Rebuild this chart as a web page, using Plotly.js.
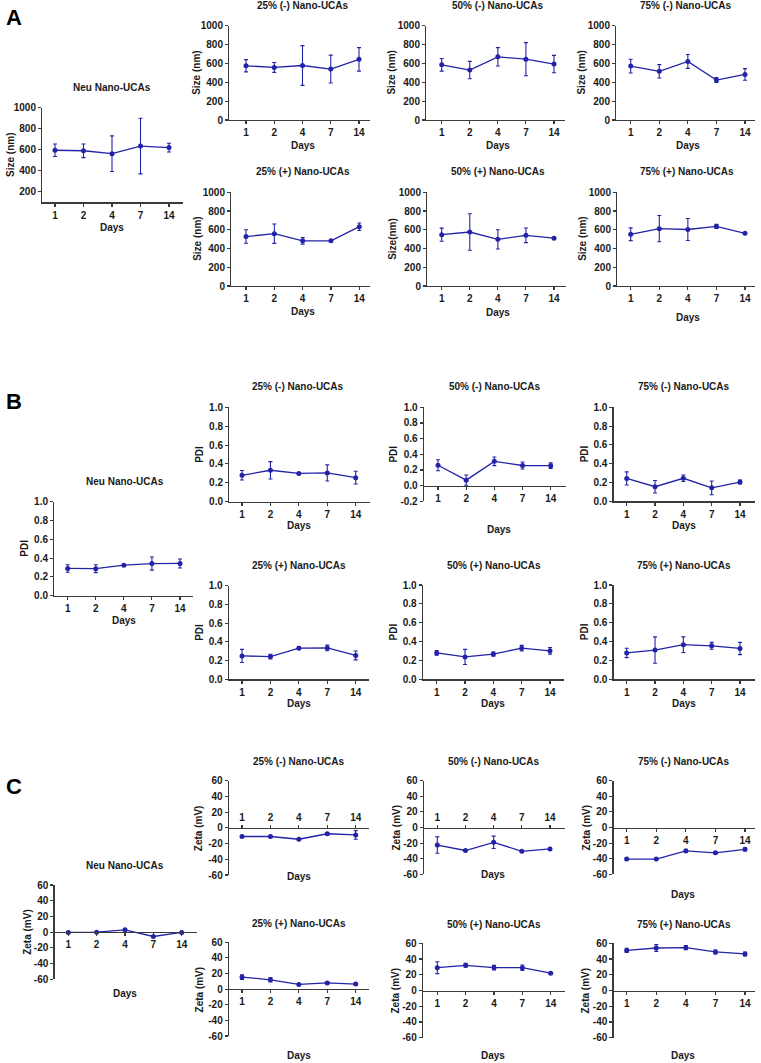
<!DOCTYPE html>
<html>
<head>
<meta charset="utf-8">
<script src="https://cdn.plot.ly/plotly-3.0.1.min.js"></script>
<style>html,body{margin:0;padding:0;background:#fff}#chart{width:761px;height:1063px}</style>
</head>
<body>
<div id="chart"></div>
<script>
// ---------------- DATA ----------------
const DAYS = ['1', '2', '4', '7', '14'];

const SIZE_NEU = [595, 590, 562, 635, 620];   const SIZE_NEU_SD = [60, 65, 170, 265, 42];
const SIZE_25N = [575, 557, 578, 540, 643];   const SIZE_25N_SD = [65, 52, 211, 148, 125];
const SIZE_50N = [585, 530, 670, 645, 593];   const SIZE_50N_SD = [67, 92, 98, 175, 92];
const SIZE_75N = [572, 516, 621, 424, 483];   const SIZE_75N_SD = [73, 71, 74, 25, 62];
const SIZE_25P = [528, 558, 482, 482, 633];   const SIZE_25P_SD = [72, 103, 35, 5, 40];
const SIZE_50P = [548, 576, 498, 541, 510];   const SIZE_50P_SD = [70, 195, 103, 78, 8];
const SIZE_75P = [552, 612, 603, 636, 562];   const SIZE_75P_SD = [68, 140, 118, 22, 8];

const PDI_NEU = [0.29, 0.287, 0.325, 0.342, 0.343]; const PDI_NEU_SD = [0.04, 0.042, 0.005, 0.07, 0.048];
const PDI_25N = [0.28, 0.333, 0.30, 0.305, 0.255];  const PDI_25N_SD = [0.05, 0.092, 0.005, 0.085, 0.067];
const PDI_50N = [0.26, 0.07, 0.31, 0.257, 0.255];   const PDI_50N_SD = [0.07, 0.065, 0.055, 0.045, 0.035];
const PDI_75N = [0.243, 0.155, 0.245, 0.143, 0.205]; const PDI_75N_SD = [0.07, 0.067, 0.035, 0.073, 0.02];
const PDI_25P = [0.25, 0.243, 0.333, 0.335, 0.255]; const PDI_25P_SD = [0.07, 0.025, 0.015, 0.03, 0.047];
const PDI_50P = [0.28, 0.237, 0.268, 0.33, 0.302];  const PDI_50P_SD = [0.025, 0.08, 0.022, 0.03, 0.035];
const PDI_75P = [0.28, 0.31, 0.367, 0.355, 0.327];  const PDI_75P_SD = [0.05, 0.14, 0.083, 0.037, 0.065];

const ZETA_NEU = [-0.3, 0, 3, -5.5, -0.4];     const ZETA_NEU_SD = [0.5, 0.5, 1, 1, 0.5];
const ZETA_25N = [-11, -11, -14.5, -7.5, -9];  const ZETA_25N_SD = [1, 1, 1, 1.5, 5.5];
const ZETA_50N = [-22.5, -29.5, -19, -30.5, -27.5]; const ZETA_50N_SD = [10.5, 1, 8, 1, 1.5];
const ZETA_75N = [-40.5, -40.5, -30, -32.5, -28];   const ZETA_75N_SD = [0.8, 0.8, 2, 1, 2];
const ZETA_25P = [15.5, 12, 6, 8, 6.5];        const ZETA_25P_SD = [3, 2.8, 1, 1, 1];
const ZETA_50P = [29, 32, 29, 29, 22];         const ZETA_50P_SD = [7.5, 2.5, 3, 3.5, 1];
const ZETA_75P = [51, 54, 54.5, 49, 46.5];     const ZETA_75P_SD = [2.5, 4.3, 2.5, 2.5, 2.5];

const SIZE_TICKS = [0, 200, 400, 600, 800, 1000];
const SIZE_TICKS_NEU = [200, 400, 600, 800, 1000];
const PDI_TICKS = [0, 0.2, 0.4, 0.6, 0.8, 1.0];
const PDI_TICKS_NEG = [-0.2, 0, 0.2, 0.4, 0.6, 0.8, 1.0];
const ZETA_TICKS = [-60, -40, -20, 0, 20, 40, 60];

const T_NEU = 'Neu Nano-UCAs';
const T_25N = '25% (-) Nano-UCAs', T_50N = '50% (-) Nano-UCAs', T_75N = '75% (-) Nano-UCAs';
const T_25P = '25% (+) Nano-UCAs', T_50P = '50% (+) Nano-UCAs', T_75P = '75% (+) Nano-UCAs';

// ---------------- LAYOUT ----------------
const W = 761, H = 1063;
const FONT = 'Liberation Sans, Arial, sans-serif';
const BLUE = '#2323a8';
const AX = '#3a3a3a';

const fmt1 = v => v.toFixed(1);
const fmt0 = v => String(v);

// geometry in px: [x0, x1, tick1, tick14, yTop, yBot], plus value range and label positions
const panels = [
  // A
  {y: SIZE_NEU, e: SIZE_NEU_SD, t: T_NEU, yt: 'Size (nm)', g: [41,183,55,169,107.7,202.2], r: [100,1000], tv: SIZE_TICKS_NEU, f: fmt0, tp: [112,88], dp: [112,227], yp: 11},
  {y: SIZE_25N, e: SIZE_25N_SD, t: T_25N, yt: 'Size (nm)', g: [228,370,246,359,25.7,120], r: [0,1000], tv: SIZE_TICKS, f: fmt0, tp: [302.7,6], dp: [303,146], yp: 197},
  {y: SIZE_50N, e: SIZE_50N_SD, t: T_50N, yt: 'Size (nm)', g: [425,565,441.7,554,25.7,120], r: [0,1000], tv: SIZE_TICKS, f: fmt0, tp: [497.5,6], dp: [498.3,146], yp: 391.7},
  {y: SIZE_75N, e: SIZE_75N_SD, t: T_75N, yt: 'Size (nm)', g: [615,755,630.7,745,25.7,120], r: [0,1000], tv: SIZE_TICKS, f: fmt0, tp: [685.5,6], dp: [688.3,146], yp: 581.7},
  {y: SIZE_25P, e: SIZE_25P_SD, t: T_25P, yt: 'Size (nm)', g: [230,370,246,359.3,192.3,286], r: [0,1000], tv: SIZE_TICKS, f: fmt0, tp: [303,171.7], dp: [303,311.7], yp: 196.7},
  {y: SIZE_50P, e: SIZE_50P_SD, t: T_50P, yt: 'Size(nm)', g: [426,566,441.7,554,192.3,286], r: [0,1000], tv: SIZE_TICKS, f: fmt0, tp: [498.3,171.7], dp: [498.3,312], yp: 391.7},
  {y: SIZE_75P, e: SIZE_75P_SD, t: T_75P, yt: 'Size (nm)', g: [616,755,630.7,745,192.3,286], r: [0,1000], tv: SIZE_TICKS, f: fmt0, tp: [687,171.7], dp: [688.3,318], yp: 581.7},
  // B
  {y: PDI_NEU, e: PDI_NEU_SD, t: T_NEU, yt: 'PDI', g: [53,193,67.7,180,501.7,595.7], r: [0,1], tv: PDI_TICKS, f: fmt1, tp: [124.7,481], dp: [124,620.7], yp: 25},
  {y: PDI_25N, e: PDI_25N_SD, t: T_25N, yt: 'PDI', g: [228,370,242,355.7,407.3,501.7], r: [0,1], tv: PDI_TICKS, f: fmt1, tp: [298.3,386], dp: [298.7,525.7], yp: 199.3},
  {y: PDI_50N, e: PDI_50N_SD, t: T_50N, yt: 'PDI', g: [422.7,566,438,550.7,407.3,501.3], r: [-0.2,1], tv: PDI_TICKS_NEG, f: fmt1, tp: [495,386], dp: [499,529], yp: 393.3},
  {y: PDI_75N, e: PDI_75N_SD, t: T_75N, yt: 'PDI', g: [612.3,755,626.7,740,407.3,501.3], r: [0,1], tv: PDI_TICKS, f: fmt1, tp: [683.8,386], dp: [684,525.7], yp: 584},
  {y: PDI_25P, e: PDI_25P_SD, t: T_25P, yt: 'PDI', g: [227.7,369.3,242,355.7,585.7,679.3], r: [0,1], tv: PDI_TICKS, f: fmt1, tp: [298.7,565], dp: [298.7,703], yp: 199.3},
  {y: PDI_50P, e: PDI_50P_SD, t: T_50P, yt: 'PDI', g: [421.7,564,436.7,550,585,679.3], r: [0,1], tv: PDI_TICKS, f: fmt1, tp: [493.7,565], dp: [493.5,703], yp: 393.3},
  {y: PDI_75P, e: PDI_75P_SD, t: T_75P, yt: 'PDI', g: [612.3,755,626.7,740,585,679.3], r: [0,1], tv: PDI_TICKS, f: fmt1, tp: [684.3,565], dp: [684,703], yp: 584},
  // C
  {y: ZETA_NEU, e: ZETA_NEU_SD, t: T_NEU, yt: 'Zeta (mV)', g: [53.3,196.7,68.3,181.7,885,979.3], r: [-60,60], tv: ZETA_TICKS, f: fmt0, tp: [124.7,865], dp: [125,993.3], yp: 26.7},
  {y: ZETA_25N, e: ZETA_25N_SD, t: T_25N, yt: 'Zeta (mV)', g: [227.7,369.3,242,355.7,780.7,875], r: [-60,60], tv: ZETA_TICKS, f: fmt0, tp: [298.8,761], dp: [299,876.7], yp: 199.3, top: true},
  {y: ZETA_50N, e: ZETA_50N_SD, t: T_50N, yt: 'Zeta (mV)', g: [422.7,565,437.3,550,780.7,874.3], r: [-60,60], tv: ZETA_TICKS, f: fmt0, tp: [494.2,761], dp: [493.3,874.3], yp: 396, top: true},
  {y: ZETA_75N, e: ZETA_75N_SD, t: T_75N, yt: 'Zeta (mV)', g: [612.3,755,626.7,745,780.7,874.3], r: [-60,60], tv: ZETA_TICKS, f: fmt0, tp: [683.8,761], dp: [683.3,894.3], yp: 586},
  {y: ZETA_25P, e: ZETA_25P_SD, t: T_25P, yt: 'Zeta (mV)', g: [227.7,369.3,242,355.7,942.3,1036], r: [-60,60], tv: ZETA_TICKS, f: fmt0, tp: [298.7,923.3], dp: [299,1055.7], yp: 199.3},
  {y: ZETA_50P, e: ZETA_50P_SD, t: T_50P, yt: 'Zeta (mV)', g: [421.7,565,437.3,550.7,943.3,1037.7], r: [-60,60], tv: ZETA_TICKS, f: fmt0, tp: [493.8,924.3], dp: [493.3,1055.7], yp: 395},
  {y: ZETA_75P, e: ZETA_75P_SD, t: T_75P, yt: 'Zeta (mV)', g: [612.3,755,626.7,745,943.3,1037.7], r: [-60,60], tv: ZETA_TICKS, f: fmt0, tp: [684.3,924.3], dp: [683.3,1055.7], yp: 585}
];

const traces = [];
const layout = {
  width: W, height: H,
  margin: {l: 0, r: 0, t: 0, b: 0},
  paper_bgcolor: '#fff', plot_bgcolor: 'rgba(0,0,0,0)',
  showlegend: false,
  font: {family: FONT, size: 10, color: '#1a1a1a'},
  annotations: []
};

const px = p => p / W;
const py = p => 1 - p / H;
const txt = (text, x, y, opts) => Object.assign({
  text: text, xref: 'paper', yref: 'paper', x: px(x), y: py(y),
  xanchor: 'center', yanchor: 'middle', showarrow: false,
  font: {family: FONT, size: 10, color: '#1a1a1a', weight: 'bold'}
}, opts || {});

panels.forEach((p, i) => {
  const n = i + 1;
  const xa = 'x' + (n === 1 ? '' : n), ya = 'y' + (n === 1 ? '' : n);
  const [x0, x1, t1, t14, yTop, yBot] = p.g;
  const sp = (t14 - t1) / (DAYS.length - 1);
  const xr = [-(t1 - x0) / sp, (DAYS.length - 1) + (x1 - t14) / sp];
  const yd = [py(yBot), py(yTop)];
  const base = Math.max(0, p.r[0]);
  const pos = yd[0] + (base - p.r[0]) / (p.r[1] - p.r[0]) * (yd[1] - yd[0]);

  traces.push({
    type: 'scatter', mode: 'lines+markers', x: DAYS, y: p.y,
    xaxis: xa, yaxis: ya,
    line: {color: BLUE, width: 1.3},
    marker: {color: BLUE, size: 5, symbol: 'circle'},
    error_y: {type: 'data', array: p.e, visible: true, color: BLUE, thickness: 1.1, width: 2},
    cliponaxis: false, hoverinfo: 'skip'
  });

  layout['xaxis' + (n === 1 ? '' : n)] = {
    type: 'category', domain: [px(x0), px(x1)], range: xr,
    anchor: 'free', position: pos, side: p.top ? 'top' : 'bottom',
    showline: true, linecolor: AX, linewidth: 1.3,
    ticks: 'outside', ticklen: 3, tickwidth: 1.1, tickcolor: AX,
    showgrid: false, zeroline: false, fixedrange: true,
    tickfont: {family: FONT, size: 10, color: '#1a1a1a', weight: 'bold'},
    tickangle: 0
  };
  layout['yaxis' + (n === 1 ? '' : n)] = {
    domain: yd, range: p.r, anchor: xa, position: px(x0),
    tickvals: p.tv, ticktext: p.tv.map(p.f),
    showline: true, linecolor: AX, linewidth: 1.3,
    ticks: 'outside', ticklen: 3, tickwidth: 1.1, tickcolor: AX,
    showgrid: false, zeroline: false, fixedrange: true,
    tickfont: {family: FONT, size: 10, color: '#1a1a1a', weight: 'bold'}
  };
  // overlay-free: y axis anchored at its x axis start
  layout['yaxis' + (n === 1 ? '' : n)].anchor = 'free';

  layout.annotations.push(txt(p.t, p.tp[0], p.tp[1]));
  layout.annotations.push(txt('Days', p.dp[0], p.dp[1]));
  layout.annotations.push(txt(p.yt, p.yp, (yTop + yBot) / 2, {textangle: -90}));
});

layout.annotations.push(txt('A', 14, 17.5, {font: {family: FONT, size: 22, color: '#000', weight: 'bold'}}));
layout.annotations.push(txt('B', 13.7, 401.7, {font: {family: FONT, size: 22, color: '#000', weight: 'bold'}}));
layout.annotations.push(txt('C', 14, 786.7, {font: {family: FONT, size: 22, color: '#000', weight: 'bold'}}));

Plotly.newPlot('chart', traces, layout, {staticPlot: true, displayModeBar: false});
</script>
</body>
</html>
